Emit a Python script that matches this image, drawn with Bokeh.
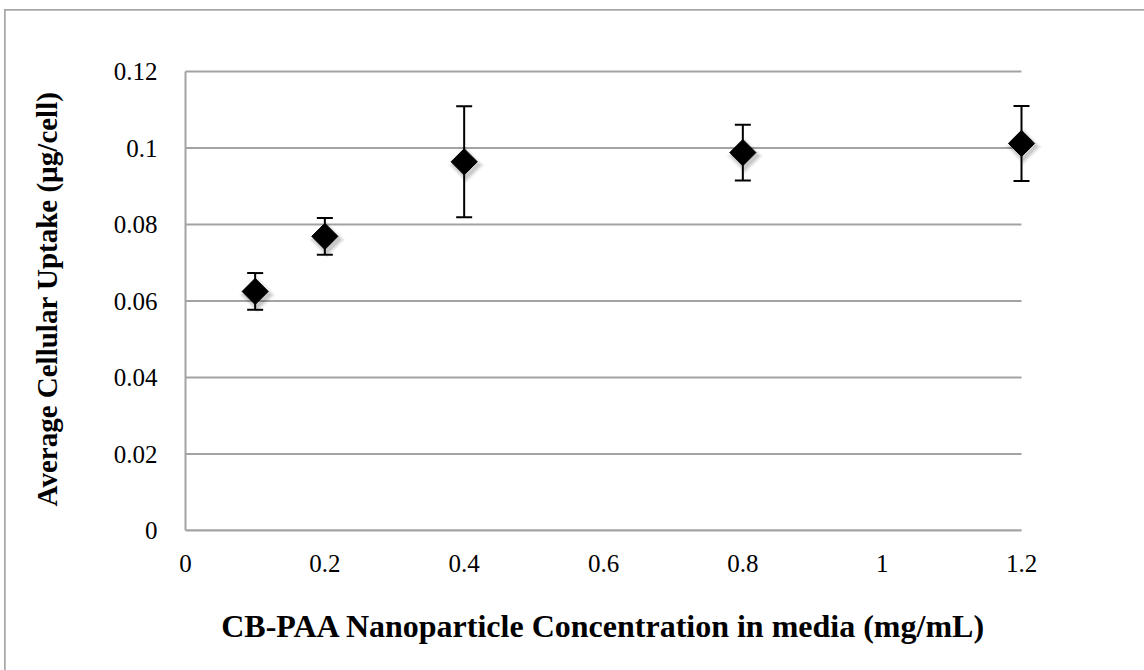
from bokeh.plotting import figure
from bokeh.models import ColumnDataSource, Range1d, FixedTicker, Whisker, TeeHead
from bokeh.embed import file_html
from bokeh.resources import INLINE

# Nanoparticle concentration in media (mg/mL)
concentration = [0.1, 0.2, 0.4, 0.8, 1.2]
# Average cellular uptake (µg/cell) and its error
uptake = [0.0625, 0.0769, 0.0964, 0.0988, 0.1012]
uptake_err = [0.0048, 0.0048, 0.0145, 0.0073, 0.0098]

x_ticks = [0, 0.2, 0.4, 0.6, 0.8, 1.0, 1.2]
x_tick_labels = ["0", "0.2", "0.4", "0.6", "0.8", "1", "1.2"]
y_ticks = [0, 0.02, 0.04, 0.06, 0.08, 0.10, 0.12]
y_tick_labels = ["0", "0.02", "0.04", "0.06", "0.08", "0.1", "0.12"]

X_MIN, X_MAX = x_ticks[0], x_ticks[-1]
Y_MIN, Y_MAX = y_ticks[0], y_ticks[-1]

src = ColumnDataSource(dict(
    x=concentration,
    y=uptake,
    upper=[u + e for u, e in zip(uptake, uptake_err)],
    lower=[u - e for u, e in zip(uptake, uptake_err)],
))

FONT = "Liberation Serif"
AXIS_GRAY = "#a3a3a3"

# The data span covers 836 x 459 px; the frame is padded equally left and
# right (and a little on top) so edge markers and the top grid line are not
# clipped, while the x-axis title stays centred on the data span.
PLOT_W, PLOT_H = 836, 459
PAD_X, PAD_T = 30, 4
dx = (X_MAX - X_MIN) * PAD_X / PLOT_W
y_end = Y_MAX + (Y_MAX - Y_MIN) * PAD_T / PLOT_H

p = figure(
    width=1139, height=660,
    frame_width=PLOT_W + 2 * PAD_X, frame_height=PLOT_H + PAD_T,
    min_border_left=180 - PAD_X, min_border_top=61 - PAD_T,
    min_border_right=123 - PAD_X, min_border_bottom=140,
    x_range=Range1d(X_MIN - dx, X_MAX + dx), y_range=Range1d(Y_MIN, y_end),
    output_backend="svg", toolbar_location=None,
    background_fill_color="white", border_fill_color="white",
)
p.margin = (10, 0, 0, 5)
p.styles = {"outline": "2px solid #a8a8a8", "outline-offset": "-1px"}
p.outline_line_color = None

# Axes
p.xaxis.ticker = FixedTicker(ticks=x_ticks)
p.yaxis.ticker = FixedTicker(ticks=y_ticks)
p.xaxis.bounds = (X_MIN, X_MAX)
p.xaxis.major_label_overrides = {t: l for t, l in zip(x_ticks, x_tick_labels)}
p.yaxis.major_label_overrides = {t: l for t, l in zip(y_ticks, y_tick_labels)}
for ax in (p.xaxis[0], p.yaxis[0]):
    ax.axis_line_color = AXIS_GRAY
    ax.axis_line_width = 2
    ax.major_tick_line_color = None
    ax.minor_tick_line_color = None
    ax.major_label_text_font = FONT
    ax.major_label_text_font_size = "25px"
    ax.major_label_text_color = "black"
    ax.axis_label_text_font = FONT
    ax.axis_label_text_font_style = "bold"
    ax.axis_label_text_color = "black"
p.yaxis.axis_line_color = None
p.xaxis.major_label_standoff = 18
p.yaxis.major_label_standoff = 22 - PAD_X
p.xaxis.axis_label = "CB-PAA Nanoparticle Concentration in media (mg/mL)"
p.xaxis.axis_label_text_font_size = "32px"
p.xaxis.axis_label_standoff = 33
p.yaxis.axis_label = "Average Cellular Uptake (µg/cell)"
p.yaxis.axis_label_text_font_size = "29px"
p.yaxis.axis_label_standoff = 48

# Vertical axis line at x = 0
p.segment(x0=[X_MIN], x1=[X_MIN], y0=[Y_MIN], y1=[Y_MAX],
          line_color=AXIS_GRAY, line_width=2)

# Horizontal grid lines across the data span only
p.xgrid.grid_line_color = None
p.ygrid.grid_line_color = None
p.segment(x0=[X_MIN] * len(y_ticks), x1=[X_MAX] * len(y_ticks),
          y0=y_ticks, y1=y_ticks, line_color=AXIS_GRAY, line_width=2)

# Error bars
tee = dict(size=16, line_width=2, line_color="black")
whisk = Whisker(base="x", upper="upper", lower="lower", source=src,
                line_width=2, line_color="black",
                upper_head=TeeHead(**tee), lower_head=TeeHead(**tee),
                level="glyph")
p.add_layout(whisk)

# Soft drop shadow below the markers
for grow, alpha in [(8, 0.05), (5, 0.07), (2, 0.10)]:
    p.scatter(x=[c + 0.003 for c in concentration],
              y=[u - 0.0009 for u in uptake],
              marker="square", angle=0.785398, size=18 + grow,
              fill_color="black", fill_alpha=alpha, line_color=None)

# Diamond markers
p.scatter(x="x", y="y", source=src, marker="square", angle=0.785398,
          size=18.5, fill_color="black", line_color="black")

open("out.html", "w").write(file_html(p, INLINE))
